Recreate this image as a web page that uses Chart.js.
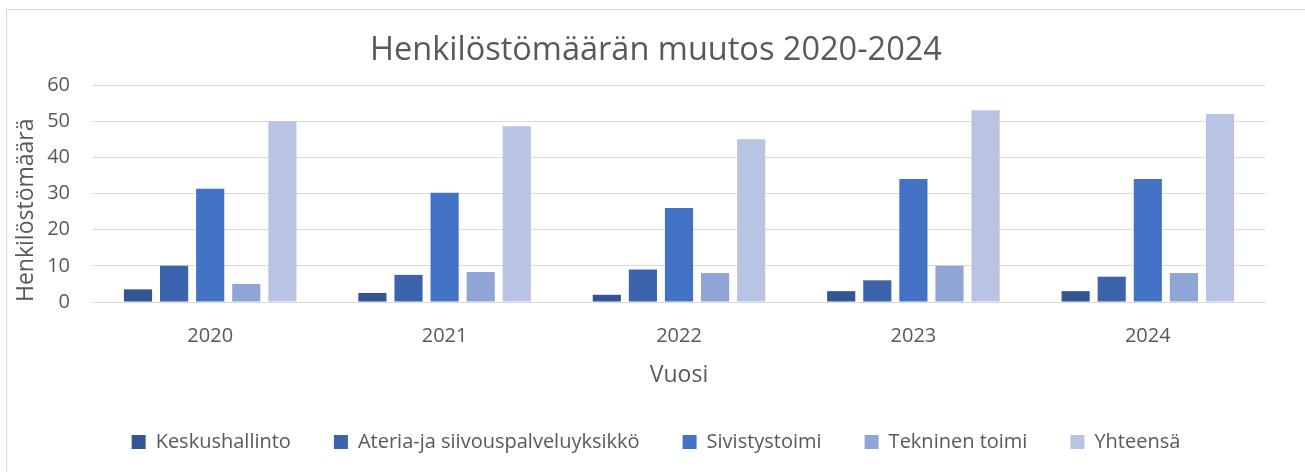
<!DOCTYPE html>
<html>
<head>
<meta charset="utf-8">
<script src="https://cdn.jsdelivr.net/npm/chart.js@4"></script>
<style>
  body { margin: 0; background: #fff; }
  #wrap { position: relative; width: 1305px; height: 472px; }
  #frame { position: absolute; left: 6px; top: 9px; width: 1300px; height: 470px; border: 1px solid #d9d9d9; box-sizing: border-box; pointer-events: none; }
</style>
</head>
<body>
<div id="wrap">
  <canvas id="myChart" width="1305" height="472"></canvas>
  <div id="frame"></div>
</div>
<script>
// data
const years = ['2020', '2021', '2022', '2023', '2024'];
const keskushallinto = [3.5, 2.5, 2, 3, 3];
const ateria = [10, 7.5, 9, 6, 7];
const sivistystoimi = [31.3, 30.2, 26, 34, 34];
const tekninen = [5, 8.3, 8, 10, 8];
const yhteensa = [50, 48.6, 45, 53, 52];
const yTicks = [0, 10, 20, 30, 40, 50, 60];

const grey = '#595959';
const font = "'Open Sans', sans-serif";

function ds(label, data, color) {
  return {
    label: label,
    data: data,
    backgroundColor: color,
    borderWidth: 0,
    categoryPercentage: 0.77,
    barPercentage: 0.78
  };
}

const ctx = document.getElementById('myChart').getContext('2d');
const myChart = new Chart(ctx, {
  type: 'bar',
  data: {
    labels: years,
    datasets: [
      ds('Keskushallinto', keskushallinto, '#335593'),
      ds('Ateria-ja siivouspalveluyksikkö', ateria, '#3B64AD'),
      ds('Sivistystoimi', sivistystoimi, '#4472C4'),
      ds('Tekninen toimi', tekninen, '#8FA5D6'),
      ds('Yhteensä', yhteensa, '#B9C3E3')
    ]
  },
  options: {
    responsive: false,
    animation: false,
    layout: { padding: { left: 47, right: 40, top: 18, bottom: 10 } },
    plugins: {
      tooltip: { enabled: false },
      title: {
        display: true,
        text: 'Henkilöstömäärän muutos 2020-2024',
        color: grey,
        font: { family: font, size: 32.5, weight: 'normal' },
        padding: { top: 13, bottom: 15 }
      },
      legend: {
        position: 'bottom',
        labels: {
          color: grey,
          font: { family: font, size: 20 },
          boxWidth: 14,
          boxHeight: 14,
          padding: 43
        }
      }
    },
    scales: {
      x: {
        afterFit: (axis) => { axis.height = 87; },
        grid: { display: false, drawTicks: false },
        border: { color: '#d9d9d9', width: 1 },
        ticks: { color: grey, font: { family: font, size: 20 }, padding: 22 },
        title: { display: true, text: 'Vuosi', color: grey, font: { family: font, size: 23 }, padding: { top: 13, bottom: 0 } }
      },
      y: {
        min: 0,
        max: 60,
        afterFit: (axis) => { axis.width = 46; },
        afterBuildTicks: (axis) => { axis.ticks = yTicks.map(v => ({ value: v })); },
        grid: { color: '#d9d9d9', lineWidth: 1, drawTicks: false },
        border: { display: false },
        ticks: { color: grey, font: { family: font, size: 20 }, padding: 23 },
        title: { display: true, align: 'start', text: 'Henkilöstömäärä', color: grey, font: { family: font, size: 23 }, padding: { top: -34, bottom: 5 } }
      }
    }
  }
});
</script>
</body>
</html>
